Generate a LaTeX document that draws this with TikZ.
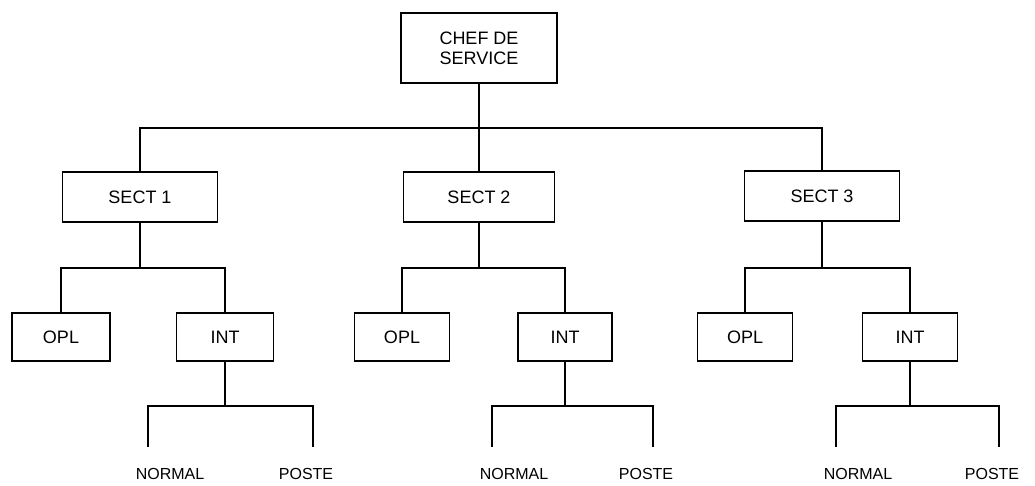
\documentclass[tikz,border=0pt]{standalone}
\usepackage{fontspec}
\setmainfont{Liberation Sans}
\begin{document}
\begin{tikzpicture}[x=1pt,y=-1pt,
  line width=1.6pt,
  box/.style={draw, line width=1.5pt, inner sep=0pt, align=center,
              font=\fontsize{18}{20}\selectfont},
  leaf/.style={inner xsep=0pt, inner ysep=20.5pt, anchor=base,
               font=\fontsize{16}{18}\selectfont}]
\useasboundingbox (0,0) rectangle (1035,485);

% head of the department
\node[box, minimum width=156pt, minimum height=70pt] (chef) at (479,48) {CHEF DE\\SERVICE};

% sectors
\node[box, minimum width=155pt, minimum height=50pt] (sect1) at (140,197) {SECT 1};
\node[box, minimum width=151pt, minimum height=50pt] (sect2) at (479,197) {SECT 2};
\node[box, minimum width=155pt, minimum height=50pt] (sect3) at (822,196) {SECT 3};

% OPL / INT units
\node[box, minimum width=98pt, minimum height=48pt] (opl1) at (61,337) {OPL};
\node[box, minimum width=97pt, minimum height=48pt] (int1) at (225,337) {INT};
\node[box, minimum width=95pt, minimum height=48pt] (opl2) at (402,337) {OPL};
\node[box, minimum width=94pt, minimum height=48pt] (int2) at (565,337) {INT};
\node[box, minimum width=95pt, minimum height=48pt] (opl3) at (745,337) {OPL};
\node[box, minimum width=95pt, minimum height=48pt] (int3) at (910,337) {INT};

% leaf labels: NORMAL starts just left of its line, POSTE sits a little left of its line
\node[leaf] (nor1) at (170,479) {NORMAL};
\node[leaf] (pos1) at (306,479) {POSTE};
\node[leaf] (nor2) at (514,479) {NORMAL};
\node[leaf] (pos2) at (646,479) {POSTE};
\node[leaf] (nor3) at (858,479) {NORMAL};
\node[leaf] (pos3) at (992,479) {POSTE};

% junction points of the bars
\coordinate (j0) at (479,128);
\coordinate (j1) at (140,268);
\coordinate (j2) at (479,268);
\coordinate (j3) at (822,268);
\coordinate (k1) at (225,406);
\coordinate (k2) at (565,406);
\coordinate (k3) at (910,406);

% first level
\draw (chef.south) -- (sect2.north);
\draw (sect1.north) |- (j0) -| (sect3.north);

% second level and leaves
\foreach \i in {1,2,3} {
  \draw (sect\i.south) -- (j\i);
  \draw (opl\i.north) |- (j\i) -| (int\i.north);
  \draw (int\i.south) -- (k\i);
  \draw ([xshift=-22pt]nor\i.north) |- (k\i) -| ([xshift=7pt]pos\i.north);
}
\end{tikzpicture}
\end{document}
